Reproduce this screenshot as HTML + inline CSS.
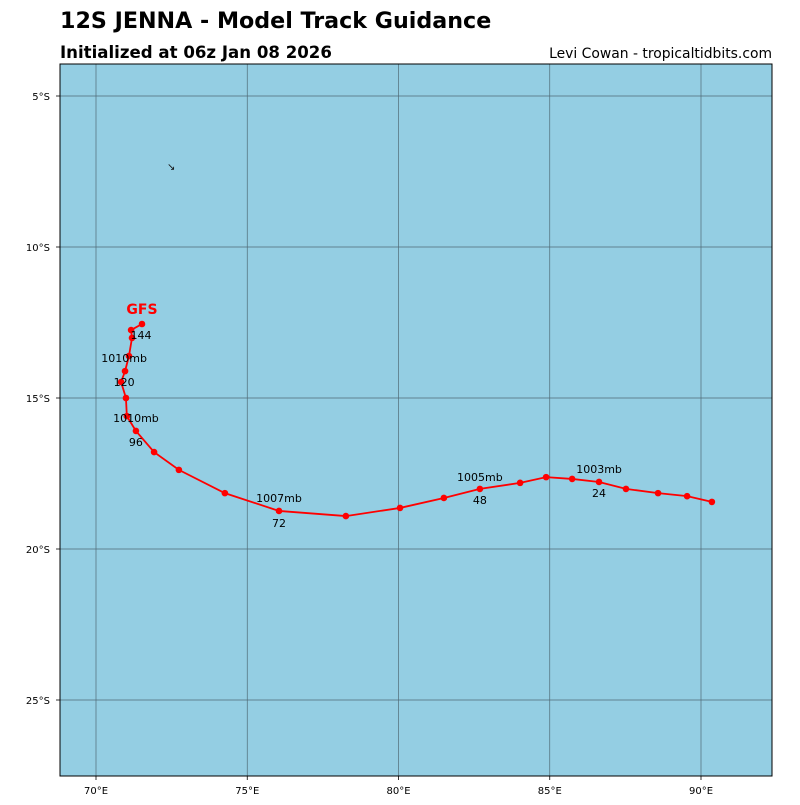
<!DOCTYPE html>
<html><head><meta charset="utf-8"><style>
body{margin:0;background:#fff;}
svg text{font-family:"DejaVu Sans","Liberation Sans",sans-serif;}
</style></head><body>
<svg id="chart" width="800" height="800" xmlns="http://www.w3.org/2000/svg">
<text x="60" y="28" font-size="22.2" font-weight="bold">12S JENNA - Model Track Guidance</text>
<text x="60" y="58" font-size="16.6" font-weight="bold">Initialized at 06z Jan 08 2026</text>
<text x="772" y="58" font-size="13.9" text-anchor="end">Levi Cowan - tropicaltidbits.com</text>
<rect x="60" y="64" width="712" height="712" fill="#94cee3"/>
<g id="grid"></g>
<g id="track"></g>
<rect x="60" y="64" width="712" height="712" fill="none" stroke="#000" stroke-width="1"/>
<text x="167" y="170" font-size="10" fill="#111">↘</text>
</svg>
<script>
const lonTicks=[70,75,80,85,90];
const latTicks=[5,10,15,20,25];
const lons=[90.36,89.54,88.58,87.52,86.63,85.74,84.88,84.02,82.69,81.50,80.05,78.26,76.05,74.26,72.74,71.92,71.32,71.02,70.99,70.96,70.83,71.09,71.19,71.16,71.52];
const lats=[18.44,18.25,18.15,18.01,17.78,17.68,17.62,17.81,18.01,18.31,18.64,18.91,18.74,18.15,17.38,16.79,16.09,15.60,15.00,14.11,14.47,13.61,13.01,12.75,12.55];
const hourIdx=[4,8,12,16,20,24];
const hourLabels=["24","48","72","96","120","144"];
const mbIdx=[4,8,12,16,20];
const mbLabels=["1003mb","1005mb","1007mb","1010mb","1010mb"];
const X=lon=>96+(lon-70)*30.25;
const Y=lat=>96+(lat-5)*30.2;
const NS="http://www.w3.org/2000/svg";
function mk(t,a,p){const e=document.createElementNS(NS,t);for(const k in a)e.setAttribute(k,a[k]);p.appendChild(e);return e;}
const g=document.getElementById('grid');
lonTicks.forEach(v=>{const x=X(v);
 const l=mk('line',{x1:x,x2:x,y1:64,y2:776,stroke:'#4f6a76','stroke-width':0.7},g);
 
 
 const tk=mk('line',{x1:x,x2:x,y1:776,y2:780,stroke:'#000','stroke-width':0.8},g);
 
 
 const t=mk('text',{x:x,y:794,'font-size':10,'text-anchor':'middle'},g);t.textContent=v+'°E';
 
 
});
latTicks.forEach(v=>{const y=Y(v);
 const l=mk('line',{x1:60,x2:772,y1:y,y2:y,stroke:'#4f6a76','stroke-width':0.7},g);
 
 
 const tk=mk('line',{x1:56,x2:60,y1:y,y2:y,stroke:'#000','stroke-width':0.8},g);
 
 
 const t=mk('text',{x:50,y:y+4,'font-size':10,'text-anchor':'end'},g);t.textContent=v+'°S';
 
 
});
const tr=document.getElementById('track');
const fixed=lons.map((lon,i)=>[X(lon),Y(lats[i])]);
const path=[...fixed.slice(0,19),fixed[20],fixed[19],...fixed.slice(21)];
const pl=mk('polyline',{points:path.map(p=>p.join(',')).join(' '),fill:'none',stroke:'#f00','stroke-width':1.8},tr);


fixed.forEach(p=>{const c=mk('circle',{cx:p[0],cy:p[1],r:3.3,fill:'#f00'},tr);
 
 
});
const hourDy=[15,15,16,15,4,15];
hourIdx.forEach((i,k)=>{const p=fixed[i];
 const t=mk('text',{x:p[0]+(k==4?3:(k==5?-1:0)),y:p[1]+hourDy[k],'font-size':11,'text-anchor':'middle'},tr);t.textContent=hourLabels[k];
 
 
});
const mbDy=[-9,-8,-9,-9,-20];
mbIdx.forEach((i,k)=>{const p=fixed[i];
 const t=mk('text',{x:p[0]+(k==4?3:0),y:p[1]+mbDy[k],'font-size':11,'text-anchor':'middle'},tr);t.textContent=mbLabels[k];
 
 
});
const last=fixed[fixed.length-1];
const gl=mk('text',{x:last[0],y:last[1]-10,'font-size':14,'font-weight':'bold',fill:'#f00','text-anchor':'middle'},tr);gl.textContent='GFS';


</script>
</body></html>
